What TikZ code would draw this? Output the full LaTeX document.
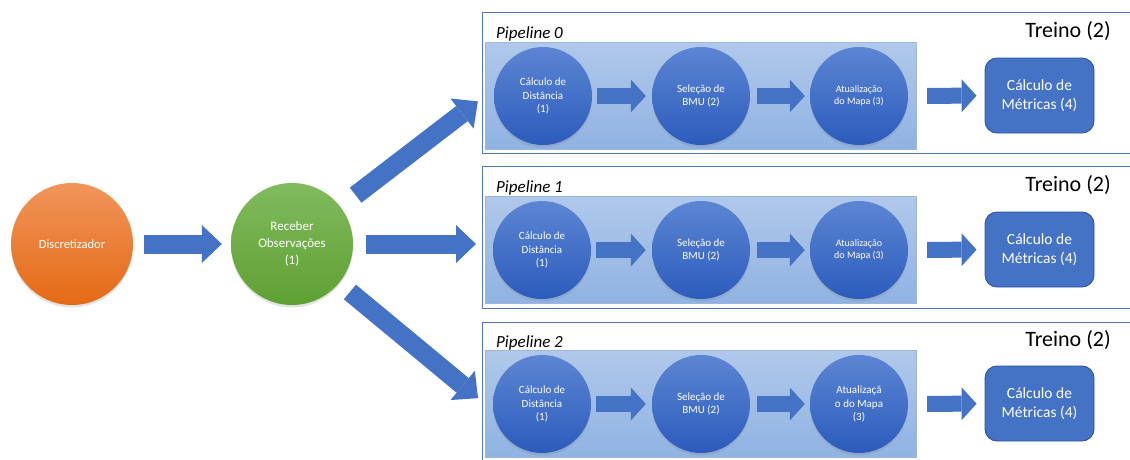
\documentclass[tikz,border=0pt]{standalone}
\usepackage{fontspec}
\setmainfont{Carlito}
\usetikzlibrary{arrows.meta,shadows}

\definecolor{accblue}{HTML}{4472C4}
\definecolor{accbluedark}{HTML}{2F5597}
\definecolor{frameblue}{HTML}{5077BC}
\definecolor{paneltop}{HTML}{B0C8EA}
\definecolor{panelbot}{HTML}{90B3E2}
\definecolor{paneledge}{HTML}{9CB6DF}
\definecolor{balltop}{HTML}{5C86D3}
\definecolor{ballbot}{HTML}{2C5BBC}
\definecolor{ortop}{HTML}{F0955A}
\definecolor{orbot}{HTML}{E56A16}
\definecolor{grtop}{HTML}{80BB5E}
\definecolor{grbot}{HTML}{5FA033}

\tikzset{
  frame/.style={rectangle, draw=frameblue, line width=1.2pt, fill=white,
    anchor=north west, inner sep=0pt, minimum width=650pt},
  panel/.style={rectangle, draw=paneledge, line width=0.8pt,
    top color=paneltop, bottom color=panelbot,
    anchor=north west, inner sep=0pt, minimum width=431pt, minimum height=107pt},
  softshadow/.style={drop shadow={opacity=0.22, shadow xshift=0pt, shadow yshift=-2.5pt}},
  ball/.style={circle, minimum size=98pt, inner sep=0pt, draw=none,
    top color=balltop, bottom color=ballbot, text=white, align=center,
    font=\fontsize{11}{13.5}\selectfont, softshadow},
  bigball/.style={circle, minimum size=122pt, inner sep=0pt, draw=none,
    text=white, align=center, softshadow},
  metricbox/.style={rectangle, rounded corners=12pt, minimum width=109pt,
    minimum height=75pt, fill=accblue, draw=accbluedark, line width=0.9pt,
    text=white, align=center, font=\fontsize{15.5}{18.5}\selectfont},
  pipelabel/.style={anchor=base west, inner sep=0pt,
    font=\itshape\fontsize{17}{20}\selectfont},
  treinolabel/.style={anchor=base east, inner sep=0pt,
    font=\fontsize{22}{26}\selectfont},
  bigarrow/.style={draw=accblue, line width=19pt,
    -{Triangle[width=38pt, length=20pt, line width=0pt]}},
  smallarrow/.style={draw=accblue, line width=16pt,
    -{Triangle[width=33pt, length=15pt, line width=0pt]}},
}

\begin{document}
\begin{tikzpicture}[x=1pt, y=-1pt]
  \useasboundingbox (0,0) rectangle (1130,459);

  % source and dispatcher
  \node[bigball, top color=ortop, bottom color=orbot,
        font=\fontsize{12.5}{15}\selectfont] (disc) at (72,244) {Discretizador};
  \node[bigball, top color=grtop, bottom color=grbot,
        font=\fontsize{13}{16.7}\selectfont] (recv) at (292,244) {Receber\\Observações\\(1)};

  % pipeline 0
  \node[frame, minimum height=141pt] (p0) at (482,12) {};
  \node[panel] (p0in) at (485,42) {};
  \node[pipelabel] (l0) at (496,38) {Pipeline 0};
  \node[treinolabel] (t0) at (1111,37) {Treino (2)};
  \node[ball] (a0) at (543,96) {Cálculo de\\Distância\\(1)};
  \node[ball] (b0) at (701,96) {Seleção de\\BMU (2)};
  \node[ball, font=\fontsize{10}{11.5}\selectfont] (c0) at (859,96) {Atualização\\do Mapa (3)};
  \node[metricbox] (m0) at (1039.5,95.5) {Cálculo de\\Métricas (4)};

  % pipeline 1
  \node[frame, minimum height=142pt] (p1) at (482,166) {};
  \node[panel] (p1in) at (485,196) {};
  \node[pipelabel] (l1) at (496,192) {Pipeline 1};
  \node[treinolabel] (t1) at (1111,191) {Treino (2)};
  \node[ball] (a1) at (542,250) {Cálculo de\\Distância\\(1)};
  \node[ball] (b1) at (701,250) {Seleção de\\BMU (2)};
  \node[ball, font=\fontsize{10}{11.5}\selectfont] (c1) at (859,250) {Atualização\\do Mapa (3)};
  \node[metricbox] (m1) at (1039.5,249.5) {Cálculo de\\Métricas (4)};

  % pipeline 2
  \node[frame, minimum height=140pt] (p2) at (482,322) {};
  \node[panel] (p2in) at (485,350) {};
  \node[pipelabel] (l2) at (496,347) {Pipeline 2};
  \node[treinolabel] (t2) at (1111,346) {Treino (2)};
  \node[ball] (a2) at (542,404) {Cálculo de\\Distância\\(1)};
  \node[ball] (b2) at (701,404) {Seleção de\\BMU (2)};
  \node[ball] (c2) at (859,404) {Atualizaçã\\o do Mapa\\(3)};
  \node[metricbox] (m2) at (1039.5,403.5) {Cálculo de\\Métricas (4)};

  % dispatch arrows
  \draw[bigarrow, shorten <=11pt, shorten >=9pt] (disc) -- (recv);
  \draw[bigarrow, shorten <=19pt, shorten >=9pt] (recv) -- (p0in.west);
  \draw[bigarrow, shorten <=13pt, shorten >=9pt] (recv) -- (recv -| p1in.west);
  \draw[bigarrow, shorten <=14pt, shorten >=9pt] (recv) -- (p2in.west);

  % stage arrows inside each pipeline
  \foreach \k in {0,1,2}{
    \draw[smallarrow, shorten <=5pt, shorten >=6pt] (a\k) -- (b\k);
    \draw[smallarrow, shorten <=7pt, shorten >=5pt] (b\k) -- (c\k);
    \draw[smallarrow, shorten <=19pt, shorten >=8pt] (c\k) -- (m\k);
  }
\end{tikzpicture}
\end{document}
